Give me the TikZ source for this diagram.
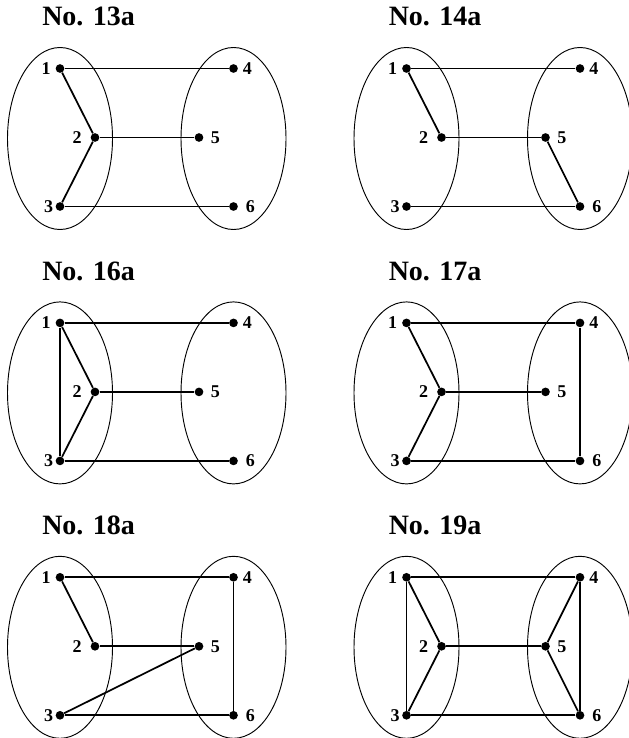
\documentclass[tikz,border=0pt]{standalone}
\usepackage{fontspec}
\setmainfont{Liberation Serif}
\newcommand\drawpanel[5]{%
  \begin{scope}[shift={(#2,#3)}, name prefix=#1-]
    \draw[oval] (60,138.5) ellipse [x radius=52.5, y radius=91];
    \draw[oval] (233.5,138.5) ellipse [x radius=52.5, y radius=91];
    \node[ttl] (t) at (42,26) {#4};
    \node[dot] (1) at (60,68.5) {};
    \node[dot] (2) at (95,137.5) {};
    \node[dot] (3) at (60,206.5) {};
    \node[dot] (4) at (233.5,68.5) {};
    \node[dot] (5) at (199,137.5) {};
    \node[dot] (6) at (233.5,206.5) {};
    \node[lab,anchor=east] (l1) at (51,68.5) {1};
    \node[lab,anchor=east] (l2) at (82,137.5) {2};
    \node[lab,anchor=east] (l3) at (53.5,206.5) {3};
    \node[lab,anchor=west] (l4) at (242.5,68.5) {4};
    \node[lab,anchor=west] (l5) at (210.5,137.5) {5};
    \node[lab,anchor=west] (l6) at (245.5,206.5) {6};
    \foreach \a/\b in {#5} \draw[edge] (\a) -- (\b);
  \end{scope}}
\begin{document}
\begin{tikzpicture}[x=0.75pt,y=-0.75pt,
  dot/.style={circle,fill=black,inner sep=0pt,minimum size=6.5pt},
  lab/.style={inner sep=0pt,font=\bfseries\fontsize{13.5}{15}\selectfont},
  ttl/.style={inner sep=0pt,anchor=base west,font=\bfseries\fontsize{21}{24}\selectfont},
  edge/.style={line width=1.3pt},
  oval/.style={line width=0.7pt}]
\useasboundingbox (0,0) rectangle (628,738);
\drawpanel{a}{0}{0}{No. 13a}{1/4,1/2,2/3,2/5,3/6}
\drawpanel{b}{346.5}{0}{No. 14a}{1/4,1/2,2/5,5/6,3/6}
\drawpanel{c}{0}{254.4}{No. 16a}{1/4,1/2,2/3,1/3,2/5,3/6}
\drawpanel{d}{346.5}{254.4}{No. 17a}{1/4,1/2,2/3,2/5,3/6,4/6}
\drawpanel{e}{0}{508.8}{No. 18a}{1/4,1/2,2/5,3/5,3/6,4/6}
\drawpanel{f}{346.5}{508.8}{No. 19a}{1/4,1/2,2/3,1/3,2/5,4/5,5/6,4/6,3/6}
\end{tikzpicture}
\end{document}
